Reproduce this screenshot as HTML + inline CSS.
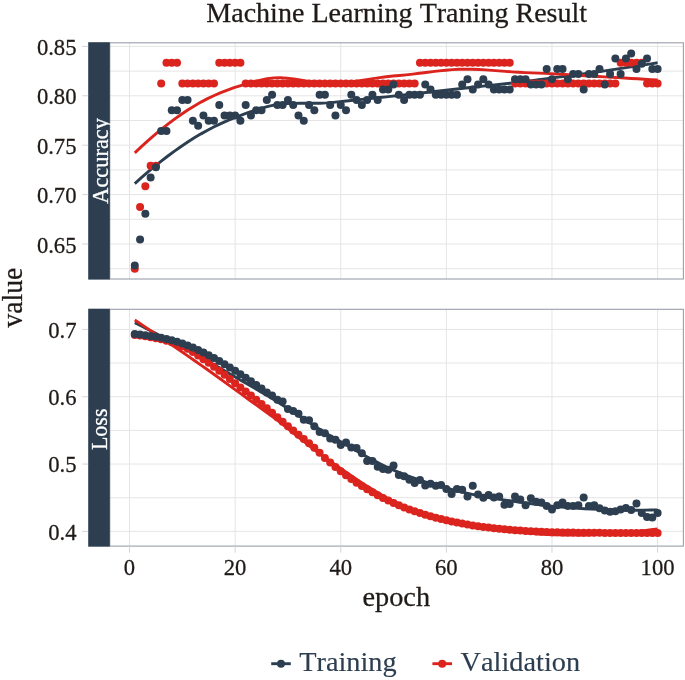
<!DOCTYPE html>
<html lang="en"><head><meta charset="utf-8"><title>Machine Learning Traning Result</title>
<style>html,body{margin:0;padding:0;background:#fff}svg{display:block}</style></head>
<body>
<svg width="685" height="680" viewBox="0 0 685 680" font-family="'Liberation Serif', 'Times New Roman', serif" style="font-kerning:none">
<rect width="685" height="680" fill="#fff"/>
<clipPath id="c1"><rect x="109.8" y="42.8" width="573.6" height="236.2"/></clipPath>
<g stroke="#E5E5E6" stroke-width="1" fill="none">
<line x1="109.8" x2="683.4" y1="244.00" y2="244.00"/>
<line x1="109.8" x2="683.4" y1="194.60" y2="194.60"/>
<line x1="109.8" x2="683.4" y1="145.20" y2="145.20"/>
<line x1="109.8" x2="683.4" y1="95.80" y2="95.80"/>
<line x1="109.8" x2="683.4" y1="46.40" y2="46.40"/>
<line x1="109.8" x2="683.4" y1="268.70" y2="268.70"/>
<line x1="109.8" x2="683.4" y1="219.30" y2="219.30"/>
<line x1="109.8" x2="683.4" y1="169.90" y2="169.90"/>
<line x1="109.8" x2="683.4" y1="120.50" y2="120.50"/>
<line x1="109.8" x2="683.4" y1="71.10" y2="71.10"/>
<line x1="129.50" x2="129.50" y1="42.8" y2="279.0"/>
<line x1="235.12" x2="235.12" y1="42.8" y2="279.0"/>
<line x1="340.74" x2="340.74" y1="42.8" y2="279.0"/>
<line x1="446.36" x2="446.36" y1="42.8" y2="279.0"/>
<line x1="551.98" x2="551.98" y1="42.8" y2="279.0"/>
<line x1="657.60" x2="657.60" y1="42.8" y2="279.0"/>
</g>
<clipPath id="c2"><rect x="109.8" y="309.3" width="573.6" height="236.8"/></clipPath>
<g stroke="#E5E5E6" stroke-width="1" fill="none">
<line x1="109.8" x2="683.4" y1="531.39" y2="531.39"/>
<line x1="109.8" x2="683.4" y1="464.06" y2="464.06"/>
<line x1="109.8" x2="683.4" y1="396.73" y2="396.73"/>
<line x1="109.8" x2="683.4" y1="329.40" y2="329.40"/>
<line x1="109.8" x2="683.4" y1="497.72" y2="497.72"/>
<line x1="109.8" x2="683.4" y1="430.39" y2="430.39"/>
<line x1="109.8" x2="683.4" y1="363.06" y2="363.06"/>
<line x1="129.50" x2="129.50" y1="309.3" y2="546.1"/>
<line x1="235.12" x2="235.12" y1="309.3" y2="546.1"/>
<line x1="340.74" x2="340.74" y1="309.3" y2="546.1"/>
<line x1="446.36" x2="446.36" y1="309.3" y2="546.1"/>
<line x1="551.98" x2="551.98" y1="309.3" y2="546.1"/>
<line x1="657.60" x2="657.60" y1="309.3" y2="546.1"/>
</g>
<path d="M134.78 183.58 L141.40 177.66 L148.02 171.94 L154.63 166.41 L161.25 161.10 L167.87 155.99 L174.49 151.10 L181.11 146.44 L187.72 142.01 L194.34 137.82 L200.96 133.87 L207.58 130.19 L214.20 126.77 L220.81 123.60 L227.43 120.66 L234.05 117.92 L240.67 115.36 L247.29 112.98 L253.90 110.73 L260.52 108.62 L267.14 106.66 L273.76 105.20 L280.38 104.23 L286.99 103.64 L293.61 103.35 L300.23 103.25 L306.85 103.26 L313.47 103.27 L320.08 103.18 L326.70 102.92 L333.32 102.36 L339.94 101.67 L346.56 100.98 L353.17 100.29 L359.79 99.61 L366.41 98.92 L373.03 98.24 L379.65 97.55 L386.26 96.86 L392.88 96.16 L399.50 95.45 L406.12 94.73 L412.74 94.00 L419.35 93.26 L425.97 92.51 L432.59 91.76 L439.21 91.01 L445.83 90.26 L452.44 89.51 L459.06 88.76 L465.68 88.02 L472.30 87.29 L478.92 86.57 L485.53 85.86 L492.15 85.16 L498.77 84.44 L505.39 83.72 L512.00 82.97 L518.62 82.20 L525.24 81.41 L531.86 80.58 L538.48 79.74 L545.09 78.90 L551.71 78.04 L558.33 77.18 L564.95 76.31 L571.57 75.43 L578.18 74.53 L584.80 73.62 L591.42 72.70 L598.04 71.77 L604.66 70.82 L611.27 69.86 L617.89 68.88 L624.51 67.90 L631.13 66.90 L637.75 65.89 L644.36 64.87 L650.98 63.83 L657.60 62.79" fill="none" stroke="#2C3E50" stroke-width="2.9" stroke-linejoin="round" clip-path="url(#c1)"/>
<path d="M134.78 152.82 L141.40 146.62 L148.02 140.64 L154.63 134.90 L161.25 129.40 L167.87 124.16 L174.49 119.18 L181.11 114.48 L187.72 110.06 L194.34 105.93 L200.96 102.11 L207.58 98.62 L214.20 95.47 L220.81 92.61 L227.43 90.04 L234.05 87.70 L240.67 85.58 L247.29 83.64 L253.90 81.86 L260.52 80.19 L267.14 78.70 L273.76 77.90 L280.38 77.77 L286.99 78.18 L293.61 78.96 L300.23 79.99 L306.85 81.10 L313.47 82.16 L320.08 83.02 L326.70 83.53 L333.32 83.56 L339.94 83.16 L346.56 82.52 L353.17 81.70 L359.79 80.74 L366.41 79.71 L373.03 78.67 L379.65 77.68 L386.26 76.79 L392.88 76.06 L399.50 75.51 L406.12 74.86 L412.74 74.11 L419.35 73.29 L425.97 72.45 L432.59 71.63 L439.21 70.86 L445.83 70.20 L452.44 69.67 L459.06 69.32 L465.68 69.20 L472.30 69.28 L478.92 69.53 L485.53 69.89 L492.15 70.34 L498.77 70.85 L505.39 71.36 L512.00 71.85 L518.62 72.29 L525.24 72.62 L531.86 72.85 L538.48 73.11 L545.09 73.40 L551.71 73.73 L558.33 74.09 L564.95 74.47 L571.57 74.87 L578.18 75.27 L584.80 75.68 L591.42 76.10 L598.04 76.50 L604.66 76.90 L611.27 77.28 L617.89 77.67 L624.51 78.05 L631.13 78.43 L637.75 78.82 L644.36 79.22 L650.98 79.64 L657.60 80.07" fill="none" stroke="#DC241F" stroke-width="2.9" stroke-linejoin="round" clip-path="url(#c1)"/>
<g fill="#DC241F" clip-path="url(#c1)">
<circle cx="134.78" cy="268.70" r="4.0"/>
<circle cx="140.06" cy="206.95" r="4.0"/>
<circle cx="145.34" cy="186.37" r="4.0"/>
<circle cx="150.62" cy="165.78" r="4.0"/>
<circle cx="155.91" cy="165.78" r="4.0"/>
<circle cx="161.19" cy="83.45" r="4.0"/>
<circle cx="166.47" cy="62.87" r="4.0"/>
<circle cx="171.75" cy="62.87" r="4.0"/>
<circle cx="177.03" cy="62.87" r="4.0"/>
<circle cx="182.31" cy="83.45" r="4.0"/>
<circle cx="187.59" cy="83.45" r="4.0"/>
<circle cx="192.87" cy="83.45" r="4.0"/>
<circle cx="198.15" cy="83.45" r="4.0"/>
<circle cx="203.43" cy="83.45" r="4.0"/>
<circle cx="208.71" cy="83.45" r="4.0"/>
<circle cx="214.00" cy="83.45" r="4.0"/>
<circle cx="219.28" cy="62.87" r="4.0"/>
<circle cx="224.56" cy="62.87" r="4.0"/>
<circle cx="229.84" cy="62.87" r="4.0"/>
<circle cx="235.12" cy="62.87" r="4.0"/>
<circle cx="240.40" cy="62.87" r="4.0"/>
<circle cx="245.68" cy="83.45" r="4.0"/>
<circle cx="250.96" cy="83.45" r="4.0"/>
<circle cx="256.24" cy="83.45" r="4.0"/>
<circle cx="261.52" cy="83.45" r="4.0"/>
<circle cx="266.81" cy="83.45" r="4.0"/>
<circle cx="272.09" cy="83.45" r="4.0"/>
<circle cx="277.37" cy="83.45" r="4.0"/>
<circle cx="282.65" cy="83.45" r="4.0"/>
<circle cx="287.93" cy="83.45" r="4.0"/>
<circle cx="293.21" cy="83.45" r="4.0"/>
<circle cx="298.49" cy="83.45" r="4.0"/>
<circle cx="303.77" cy="83.45" r="4.0"/>
<circle cx="309.05" cy="83.45" r="4.0"/>
<circle cx="314.33" cy="83.45" r="4.0"/>
<circle cx="319.62" cy="83.45" r="4.0"/>
<circle cx="324.90" cy="83.45" r="4.0"/>
<circle cx="330.18" cy="83.45" r="4.0"/>
<circle cx="335.46" cy="83.45" r="4.0"/>
<circle cx="340.74" cy="83.45" r="4.0"/>
<circle cx="346.02" cy="83.45" r="4.0"/>
<circle cx="351.30" cy="83.45" r="4.0"/>
<circle cx="356.58" cy="83.45" r="4.0"/>
<circle cx="361.86" cy="83.45" r="4.0"/>
<circle cx="367.14" cy="83.45" r="4.0"/>
<circle cx="372.43" cy="83.45" r="4.0"/>
<circle cx="377.71" cy="83.45" r="4.0"/>
<circle cx="382.99" cy="83.45" r="4.0"/>
<circle cx="388.27" cy="83.45" r="4.0"/>
<circle cx="393.55" cy="83.45" r="4.0"/>
<circle cx="398.83" cy="83.45" r="4.0"/>
<circle cx="404.11" cy="83.45" r="4.0"/>
<circle cx="409.39" cy="83.45" r="4.0"/>
<circle cx="414.67" cy="83.45" r="4.0"/>
<circle cx="419.95" cy="62.87" r="4.0"/>
<circle cx="425.24" cy="62.87" r="4.0"/>
<circle cx="430.52" cy="62.87" r="4.0"/>
<circle cx="435.80" cy="62.87" r="4.0"/>
<circle cx="441.08" cy="62.87" r="4.0"/>
<circle cx="446.36" cy="62.87" r="4.0"/>
<circle cx="451.64" cy="62.87" r="4.0"/>
<circle cx="456.92" cy="62.87" r="4.0"/>
<circle cx="462.20" cy="62.87" r="4.0"/>
<circle cx="467.48" cy="62.87" r="4.0"/>
<circle cx="472.76" cy="62.87" r="4.0"/>
<circle cx="478.05" cy="62.87" r="4.0"/>
<circle cx="483.33" cy="62.87" r="4.0"/>
<circle cx="488.61" cy="62.87" r="4.0"/>
<circle cx="493.89" cy="62.87" r="4.0"/>
<circle cx="499.17" cy="62.87" r="4.0"/>
<circle cx="504.45" cy="62.87" r="4.0"/>
<circle cx="509.73" cy="62.87" r="4.0"/>
<circle cx="515.01" cy="83.45" r="4.0"/>
<circle cx="520.29" cy="83.45" r="4.0"/>
<circle cx="525.58" cy="83.45" r="4.0"/>
<circle cx="530.86" cy="83.45" r="4.0"/>
<circle cx="536.14" cy="83.45" r="4.0"/>
<circle cx="541.42" cy="83.45" r="4.0"/>
<circle cx="546.70" cy="83.45" r="4.0"/>
<circle cx="551.98" cy="83.45" r="4.0"/>
<circle cx="557.26" cy="83.45" r="4.0"/>
<circle cx="562.54" cy="83.45" r="4.0"/>
<circle cx="567.82" cy="83.45" r="4.0"/>
<circle cx="573.10" cy="83.45" r="4.0"/>
<circle cx="578.38" cy="83.45" r="4.0"/>
<circle cx="583.67" cy="83.45" r="4.0"/>
<circle cx="588.95" cy="83.45" r="4.0"/>
<circle cx="594.23" cy="83.45" r="4.0"/>
<circle cx="599.51" cy="83.45" r="4.0"/>
<circle cx="604.79" cy="83.45" r="4.0"/>
<circle cx="610.07" cy="83.45" r="4.0"/>
<circle cx="615.35" cy="83.45" r="4.0"/>
<circle cx="620.63" cy="62.87" r="4.0"/>
<circle cx="625.91" cy="62.87" r="4.0"/>
<circle cx="631.19" cy="62.87" r="4.0"/>
<circle cx="636.48" cy="62.87" r="4.0"/>
<circle cx="641.76" cy="62.87" r="4.0"/>
<circle cx="647.04" cy="83.45" r="4.0"/>
<circle cx="652.32" cy="83.45" r="4.0"/>
<circle cx="657.60" cy="83.45" r="4.0"/>
</g>
<g fill="#2C3E50" clip-path="url(#c1)">
<circle cx="134.78" cy="265.47" r="4.0"/>
<circle cx="140.06" cy="239.60" r="4.0"/>
<circle cx="145.34" cy="213.74" r="4.0"/>
<circle cx="150.62" cy="177.53" r="4.0"/>
<circle cx="155.91" cy="167.18" r="4.0"/>
<circle cx="161.19" cy="130.97" r="4.0"/>
<circle cx="166.47" cy="130.97" r="4.0"/>
<circle cx="171.75" cy="110.28" r="4.0"/>
<circle cx="177.03" cy="110.28" r="4.0"/>
<circle cx="182.31" cy="99.94" r="4.0"/>
<circle cx="187.59" cy="99.94" r="4.0"/>
<circle cx="192.87" cy="120.63" r="4.0"/>
<circle cx="198.15" cy="125.80" r="4.0"/>
<circle cx="203.43" cy="115.46" r="4.0"/>
<circle cx="208.71" cy="120.63" r="4.0"/>
<circle cx="214.00" cy="120.63" r="4.0"/>
<circle cx="219.28" cy="105.11" r="4.0"/>
<circle cx="224.56" cy="115.46" r="4.0"/>
<circle cx="229.84" cy="115.46" r="4.0"/>
<circle cx="235.12" cy="115.46" r="4.0"/>
<circle cx="240.40" cy="120.63" r="4.0"/>
<circle cx="245.68" cy="105.11" r="4.0"/>
<circle cx="250.96" cy="115.46" r="4.0"/>
<circle cx="256.24" cy="110.28" r="4.0"/>
<circle cx="261.52" cy="110.28" r="4.0"/>
<circle cx="266.81" cy="99.94" r="4.0"/>
<circle cx="272.09" cy="94.77" r="4.0"/>
<circle cx="277.37" cy="105.11" r="4.0"/>
<circle cx="282.65" cy="105.11" r="4.0"/>
<circle cx="287.93" cy="99.94" r="4.0"/>
<circle cx="293.21" cy="105.11" r="4.0"/>
<circle cx="298.49" cy="115.46" r="4.0"/>
<circle cx="303.77" cy="120.63" r="4.0"/>
<circle cx="309.05" cy="105.11" r="4.0"/>
<circle cx="314.33" cy="110.28" r="4.0"/>
<circle cx="319.62" cy="94.77" r="4.0"/>
<circle cx="324.90" cy="94.77" r="4.0"/>
<circle cx="330.18" cy="105.11" r="4.0"/>
<circle cx="335.46" cy="115.46" r="4.0"/>
<circle cx="340.74" cy="105.11" r="4.0"/>
<circle cx="346.02" cy="110.28" r="4.0"/>
<circle cx="351.30" cy="94.77" r="4.0"/>
<circle cx="356.58" cy="99.94" r="4.0"/>
<circle cx="361.86" cy="105.11" r="4.0"/>
<circle cx="367.14" cy="99.94" r="4.0"/>
<circle cx="372.43" cy="94.77" r="4.0"/>
<circle cx="377.71" cy="99.94" r="4.0"/>
<circle cx="382.99" cy="89.59" r="4.0"/>
<circle cx="388.27" cy="89.59" r="4.0"/>
<circle cx="393.55" cy="84.42" r="4.0"/>
<circle cx="398.83" cy="94.77" r="4.0"/>
<circle cx="404.11" cy="99.94" r="4.0"/>
<circle cx="409.39" cy="94.77" r="4.0"/>
<circle cx="414.67" cy="94.77" r="4.0"/>
<circle cx="419.95" cy="94.77" r="4.0"/>
<circle cx="425.24" cy="84.42" r="4.0"/>
<circle cx="430.52" cy="89.59" r="4.0"/>
<circle cx="435.80" cy="94.77" r="4.0"/>
<circle cx="441.08" cy="94.77" r="4.0"/>
<circle cx="446.36" cy="94.77" r="4.0"/>
<circle cx="451.64" cy="94.77" r="4.0"/>
<circle cx="456.92" cy="94.77" r="4.0"/>
<circle cx="462.20" cy="84.42" r="4.0"/>
<circle cx="467.48" cy="79.25" r="4.0"/>
<circle cx="472.76" cy="89.59" r="4.0"/>
<circle cx="478.05" cy="84.42" r="4.0"/>
<circle cx="483.33" cy="79.25" r="4.0"/>
<circle cx="488.61" cy="84.42" r="4.0"/>
<circle cx="493.89" cy="89.59" r="4.0"/>
<circle cx="499.17" cy="89.59" r="4.0"/>
<circle cx="504.45" cy="89.59" r="4.0"/>
<circle cx="509.73" cy="89.59" r="4.0"/>
<circle cx="515.01" cy="79.25" r="4.0"/>
<circle cx="520.29" cy="79.25" r="4.0"/>
<circle cx="525.58" cy="79.25" r="4.0"/>
<circle cx="530.86" cy="84.42" r="4.0"/>
<circle cx="536.14" cy="84.42" r="4.0"/>
<circle cx="541.42" cy="84.42" r="4.0"/>
<circle cx="546.70" cy="68.90" r="4.0"/>
<circle cx="551.98" cy="79.25" r="4.0"/>
<circle cx="557.26" cy="68.90" r="4.0"/>
<circle cx="562.54" cy="68.90" r="4.0"/>
<circle cx="567.82" cy="79.25" r="4.0"/>
<circle cx="573.10" cy="74.07" r="4.0"/>
<circle cx="578.38" cy="74.07" r="4.0"/>
<circle cx="583.67" cy="89.59" r="4.0"/>
<circle cx="588.95" cy="74.07" r="4.0"/>
<circle cx="594.23" cy="74.07" r="4.0"/>
<circle cx="599.51" cy="68.90" r="4.0"/>
<circle cx="604.79" cy="84.42" r="4.0"/>
<circle cx="610.07" cy="74.07" r="4.0"/>
<circle cx="615.35" cy="58.56" r="4.0"/>
<circle cx="620.63" cy="74.07" r="4.0"/>
<circle cx="625.91" cy="58.56" r="4.0"/>
<circle cx="631.19" cy="53.38" r="4.0"/>
<circle cx="636.48" cy="68.90" r="4.0"/>
<circle cx="641.76" cy="63.73" r="4.0"/>
<circle cx="647.04" cy="58.56" r="4.0"/>
<circle cx="652.32" cy="68.90" r="4.0"/>
<circle cx="657.60" cy="68.90" r="4.0"/>
</g>
<path d="M134.78 322.72 L141.40 326.07 L148.02 329.44 L154.63 332.83 L161.25 336.25 L167.87 339.69 L174.49 343.17 L181.11 346.68 L187.72 350.22 L194.34 353.81 L200.96 357.44 L207.58 361.12 L214.20 364.86 L220.81 368.63 L227.43 372.45 L234.05 376.28 L240.67 380.13 L247.29 383.98 L253.90 387.83 L260.52 391.67 L267.14 395.50 L273.76 399.51 L280.38 403.67 L286.99 407.96 L293.61 412.32 L300.23 416.71 L306.85 421.08 L313.47 425.39 L320.08 429.59 L326.70 433.63 L333.32 437.48 L339.94 441.27 L346.56 445.10 L353.17 448.93 L359.79 452.72 L366.41 456.44 L373.03 460.05 L379.65 463.51 L386.26 466.79 L392.88 469.84 L399.50 472.64 L406.12 475.25 L412.74 477.69 L419.35 479.97 L425.97 482.12 L432.59 484.14 L439.21 486.06 L445.83 487.88 L452.44 489.62 L459.06 491.30 L465.68 492.92 L472.30 494.43 L478.92 495.79 L485.53 497.01 L492.15 498.13 L498.77 499.16 L505.39 500.13 L512.00 501.06 L518.62 501.97 L525.24 502.89 L531.86 503.81 L538.48 504.66 L545.09 505.44 L551.71 506.15 L558.33 506.79 L564.95 507.36 L571.57 507.88 L578.18 508.33 L584.80 508.74 L591.42 509.09 L598.04 509.40 L604.66 509.66 L611.27 509.88 L617.89 510.04 L624.51 510.15 L631.13 510.21 L637.75 510.21 L644.36 510.15 L650.98 510.03 L657.60 509.84" fill="none" stroke="#2C3E50" stroke-width="2.9" stroke-linejoin="round" clip-path="url(#c2)"/>
<path d="M134.78 319.96 L141.40 324.40 L148.02 328.84 L154.63 333.29 L161.25 337.76 L167.87 342.24 L174.49 346.75 L181.11 351.28 L187.72 355.84 L194.34 360.44 L200.96 365.07 L207.58 369.75 L214.20 374.48 L220.81 379.25 L227.43 384.05 L234.05 388.86 L240.67 393.67 L247.29 398.47 L253.90 403.24 L260.52 407.98 L267.14 412.71 L273.76 417.62 L280.38 422.72 L286.99 427.95 L293.61 433.25 L300.23 438.57 L306.85 443.85 L313.47 449.03 L320.08 454.07 L326.70 458.90 L333.32 463.46 L339.94 467.94 L346.56 472.44 L353.17 476.93 L359.79 481.35 L366.41 485.67 L373.03 489.84 L379.65 493.81 L386.26 497.54 L392.88 500.98 L399.50 504.10 L406.12 506.94 L412.74 509.54 L419.35 511.92 L425.97 514.10 L432.59 516.12 L439.21 517.99 L445.83 519.74 L452.44 521.41 L459.06 523.00 L465.68 524.56 L472.30 525.98 L478.92 527.22 L485.53 528.30 L492.15 529.25 L498.77 530.10 L505.39 530.85 L512.00 531.54 L518.62 532.18 L525.24 532.81 L531.86 533.43 L538.48 533.95 L545.09 534.36 L551.71 534.68 L558.33 534.91 L564.95 535.05 L571.57 535.10 L578.18 535.07 L584.80 534.96 L591.42 534.78 L598.04 534.53 L604.66 534.21 L611.27 533.82 L617.89 533.35 L624.51 532.81 L631.13 532.18 L637.75 531.48 L644.36 530.69 L650.98 529.81 L657.60 528.85" fill="none" stroke="#DC241F" stroke-width="2.9" stroke-linejoin="round" clip-path="url(#c2)"/>
<g fill="#DC241F" clip-path="url(#c2)">
<circle cx="134.78" cy="334.98" r="4.0"/>
<circle cx="140.06" cy="335.51" r="4.0"/>
<circle cx="145.34" cy="336.25" r="4.0"/>
<circle cx="150.62" cy="337.13" r="4.0"/>
<circle cx="155.91" cy="338.14" r="4.0"/>
<circle cx="161.19" cy="339.30" r="4.0"/>
<circle cx="166.47" cy="340.68" r="4.0"/>
<circle cx="171.75" cy="342.29" r="4.0"/>
<circle cx="177.03" cy="344.13" r="4.0"/>
<circle cx="182.31" cy="346.20" r="4.0"/>
<circle cx="187.59" cy="348.79" r="4.0"/>
<circle cx="192.87" cy="352.01" r="4.0"/>
<circle cx="198.15" cy="355.56" r="4.0"/>
<circle cx="203.43" cy="359.17" r="4.0"/>
<circle cx="208.71" cy="362.85" r="4.0"/>
<circle cx="214.00" cy="366.73" r="4.0"/>
<circle cx="219.28" cy="370.73" r="4.0"/>
<circle cx="224.56" cy="374.84" r="4.0"/>
<circle cx="229.84" cy="379.08" r="4.0"/>
<circle cx="235.12" cy="383.29" r="4.0"/>
<circle cx="240.40" cy="387.43" r="4.0"/>
<circle cx="245.68" cy="391.52" r="4.0"/>
<circle cx="250.96" cy="395.62" r="4.0"/>
<circle cx="256.24" cy="399.77" r="4.0"/>
<circle cx="261.52" cy="403.99" r="4.0"/>
<circle cx="266.81" cy="408.34" r="4.0"/>
<circle cx="272.09" cy="412.78" r="4.0"/>
<circle cx="277.37" cy="417.26" r="4.0"/>
<circle cx="282.65" cy="421.74" r="4.0"/>
<circle cx="287.93" cy="426.17" r="4.0"/>
<circle cx="293.21" cy="430.48" r="4.0"/>
<circle cx="298.49" cy="434.71" r="4.0"/>
<circle cx="303.77" cy="438.96" r="4.0"/>
<circle cx="309.05" cy="443.31" r="4.0"/>
<circle cx="314.33" cy="447.87" r="4.0"/>
<circle cx="319.62" cy="452.87" r="4.0"/>
<circle cx="324.90" cy="457.89" r="4.0"/>
<circle cx="330.18" cy="462.54" r="4.0"/>
<circle cx="335.46" cy="467.00" r="4.0"/>
<circle cx="340.74" cy="471.19" r="4.0"/>
<circle cx="346.02" cy="475.16" r="4.0"/>
<circle cx="351.30" cy="478.99" r="4.0"/>
<circle cx="356.58" cy="482.65" r="4.0"/>
<circle cx="361.86" cy="486.11" r="4.0"/>
<circle cx="367.14" cy="489.34" r="4.0"/>
<circle cx="372.43" cy="492.36" r="4.0"/>
<circle cx="377.71" cy="495.23" r="4.0"/>
<circle cx="382.99" cy="497.94" r="4.0"/>
<circle cx="388.27" cy="500.50" r="4.0"/>
<circle cx="393.55" cy="502.91" r="4.0"/>
<circle cx="398.83" cy="505.20" r="4.0"/>
<circle cx="404.11" cy="507.38" r="4.0"/>
<circle cx="409.39" cy="509.44" r="4.0"/>
<circle cx="414.67" cy="511.36" r="4.0"/>
<circle cx="419.95" cy="513.12" r="4.0"/>
<circle cx="425.24" cy="514.75" r="4.0"/>
<circle cx="430.52" cy="516.27" r="4.0"/>
<circle cx="435.80" cy="517.68" r="4.0"/>
<circle cx="441.08" cy="519.01" r="4.0"/>
<circle cx="446.36" cy="520.25" r="4.0"/>
<circle cx="451.64" cy="521.42" r="4.0"/>
<circle cx="456.92" cy="522.54" r="4.0"/>
<circle cx="462.20" cy="523.59" r="4.0"/>
<circle cx="467.48" cy="524.55" r="4.0"/>
<circle cx="472.76" cy="525.42" r="4.0"/>
<circle cx="478.05" cy="526.21" r="4.0"/>
<circle cx="483.33" cy="526.94" r="4.0"/>
<circle cx="488.61" cy="527.61" r="4.0"/>
<circle cx="493.89" cy="528.23" r="4.0"/>
<circle cx="499.17" cy="528.78" r="4.0"/>
<circle cx="504.45" cy="529.29" r="4.0"/>
<circle cx="509.73" cy="529.76" r="4.0"/>
<circle cx="515.01" cy="530.20" r="4.0"/>
<circle cx="520.29" cy="530.59" r="4.0"/>
<circle cx="525.58" cy="530.93" r="4.0"/>
<circle cx="530.86" cy="531.25" r="4.0"/>
<circle cx="536.14" cy="531.56" r="4.0"/>
<circle cx="541.42" cy="531.83" r="4.0"/>
<circle cx="546.70" cy="532.06" r="4.0"/>
<circle cx="551.98" cy="532.21" r="4.0"/>
<circle cx="557.26" cy="532.32" r="4.0"/>
<circle cx="562.54" cy="532.43" r="4.0"/>
<circle cx="567.82" cy="532.52" r="4.0"/>
<circle cx="573.10" cy="532.61" r="4.0"/>
<circle cx="578.38" cy="532.69" r="4.0"/>
<circle cx="583.67" cy="532.75" r="4.0"/>
<circle cx="588.95" cy="532.81" r="4.0"/>
<circle cx="594.23" cy="532.85" r="4.0"/>
<circle cx="599.51" cy="532.87" r="4.0"/>
<circle cx="604.79" cy="532.88" r="4.0"/>
<circle cx="610.07" cy="532.88" r="4.0"/>
<circle cx="615.35" cy="532.88" r="4.0"/>
<circle cx="620.63" cy="532.88" r="4.0"/>
<circle cx="625.91" cy="532.88" r="4.0"/>
<circle cx="631.19" cy="532.88" r="4.0"/>
<circle cx="636.48" cy="532.88" r="4.0"/>
<circle cx="641.76" cy="532.88" r="4.0"/>
<circle cx="647.04" cy="532.88" r="4.0"/>
<circle cx="652.32" cy="532.88" r="4.0"/>
<circle cx="657.60" cy="532.88" r="4.0"/>
</g>
<g fill="#2C3E50" clip-path="url(#c2)">
<circle cx="134.78" cy="334.10" r="4.0"/>
<circle cx="140.06" cy="334.60" r="4.0"/>
<circle cx="145.34" cy="335.20" r="4.0"/>
<circle cx="150.62" cy="335.90" r="4.0"/>
<circle cx="155.91" cy="336.80" r="4.0"/>
<circle cx="161.19" cy="337.80" r="4.0"/>
<circle cx="166.47" cy="339.00" r="4.0"/>
<circle cx="171.75" cy="340.30" r="4.0"/>
<circle cx="177.03" cy="341.80" r="4.0"/>
<circle cx="182.31" cy="343.50" r="4.0"/>
<circle cx="187.59" cy="345.40" r="4.0"/>
<circle cx="192.87" cy="347.50" r="4.0"/>
<circle cx="198.15" cy="349.90" r="4.0"/>
<circle cx="203.43" cy="352.40" r="4.0"/>
<circle cx="208.71" cy="355.20" r="4.0"/>
<circle cx="214.00" cy="358.10" r="4.0"/>
<circle cx="219.28" cy="361.10" r="4.0"/>
<circle cx="224.56" cy="364.20" r="4.0"/>
<circle cx="229.84" cy="367.50" r="4.0"/>
<circle cx="235.12" cy="370.80" r="4.0"/>
<circle cx="240.40" cy="374.30" r="4.0"/>
<circle cx="245.68" cy="377.80" r="4.0"/>
<circle cx="250.96" cy="381.30" r="4.0"/>
<circle cx="256.24" cy="384.90" r="4.0"/>
<circle cx="261.52" cy="388.50" r="4.0"/>
<circle cx="266.81" cy="392.60" r="4.0"/>
<circle cx="272.09" cy="395.60" r="4.0"/>
<circle cx="277.37" cy="399.70" r="4.0"/>
<circle cx="282.65" cy="401.50" r="4.0"/>
<circle cx="287.93" cy="409.10" r="4.0"/>
<circle cx="293.21" cy="410.90" r="4.0"/>
<circle cx="298.49" cy="413.80" r="4.0"/>
<circle cx="303.77" cy="419.70" r="4.0"/>
<circle cx="309.05" cy="420.30" r="4.0"/>
<circle cx="314.33" cy="426.20" r="4.0"/>
<circle cx="319.62" cy="432.10" r="4.0"/>
<circle cx="324.90" cy="433.20" r="4.0"/>
<circle cx="330.18" cy="438.50" r="4.0"/>
<circle cx="335.46" cy="439.70" r="4.0"/>
<circle cx="340.74" cy="445.00" r="4.0"/>
<circle cx="346.02" cy="442.60" r="4.0"/>
<circle cx="351.30" cy="447.40" r="4.0"/>
<circle cx="356.58" cy="447.90" r="4.0"/>
<circle cx="361.86" cy="453.20" r="4.0"/>
<circle cx="367.14" cy="460.90" r="4.0"/>
<circle cx="372.43" cy="460.90" r="4.0"/>
<circle cx="377.71" cy="466.80" r="4.0"/>
<circle cx="382.99" cy="469.10" r="4.0"/>
<circle cx="388.27" cy="469.70" r="4.0"/>
<circle cx="393.55" cy="465.60" r="4.0"/>
<circle cx="398.83" cy="475.00" r="4.0"/>
<circle cx="404.11" cy="476.20" r="4.0"/>
<circle cx="409.39" cy="479.70" r="4.0"/>
<circle cx="414.67" cy="482.90" r="4.0"/>
<circle cx="419.95" cy="479.90" r="4.0"/>
<circle cx="425.24" cy="485.60" r="4.0"/>
<circle cx="430.52" cy="483.80" r="4.0"/>
<circle cx="435.80" cy="485.80" r="4.0"/>
<circle cx="441.08" cy="485.00" r="4.0"/>
<circle cx="446.36" cy="489.10" r="4.0"/>
<circle cx="451.64" cy="494.10" r="4.0"/>
<circle cx="456.92" cy="489.10" r="4.0"/>
<circle cx="462.20" cy="489.70" r="4.0"/>
<circle cx="467.48" cy="496.40" r="4.0"/>
<circle cx="472.76" cy="485.70" r="4.0"/>
<circle cx="478.05" cy="494.60" r="4.0"/>
<circle cx="483.33" cy="497.80" r="4.0"/>
<circle cx="488.61" cy="494.90" r="4.0"/>
<circle cx="493.89" cy="497.60" r="4.0"/>
<circle cx="499.17" cy="496.50" r="4.0"/>
<circle cx="504.45" cy="504.70" r="4.0"/>
<circle cx="509.73" cy="504.10" r="4.0"/>
<circle cx="515.01" cy="496.50" r="4.0"/>
<circle cx="520.29" cy="499.40" r="4.0"/>
<circle cx="525.58" cy="505.30" r="4.0"/>
<circle cx="530.86" cy="498.20" r="4.0"/>
<circle cx="536.14" cy="501.80" r="4.0"/>
<circle cx="541.42" cy="502.40" r="4.0"/>
<circle cx="546.70" cy="505.90" r="4.0"/>
<circle cx="551.98" cy="509.60" r="4.0"/>
<circle cx="557.26" cy="505.30" r="4.0"/>
<circle cx="562.54" cy="502.40" r="4.0"/>
<circle cx="567.82" cy="505.90" r="4.0"/>
<circle cx="573.10" cy="505.90" r="4.0"/>
<circle cx="578.38" cy="505.30" r="4.0"/>
<circle cx="583.67" cy="497.60" r="4.0"/>
<circle cx="588.95" cy="505.90" r="4.0"/>
<circle cx="594.23" cy="505.30" r="4.0"/>
<circle cx="599.51" cy="508.20" r="4.0"/>
<circle cx="604.79" cy="510.60" r="4.0"/>
<circle cx="610.07" cy="511.80" r="4.0"/>
<circle cx="615.35" cy="511.20" r="4.0"/>
<circle cx="620.63" cy="509.40" r="4.0"/>
<circle cx="625.91" cy="508.00" r="4.0"/>
<circle cx="631.19" cy="510.00" r="4.0"/>
<circle cx="636.48" cy="503.50" r="4.0"/>
<circle cx="641.76" cy="512.90" r="4.0"/>
<circle cx="647.04" cy="517.10" r="4.0"/>
<circle cx="652.32" cy="517.60" r="4.0"/>
<circle cx="657.60" cy="512.90" r="4.0"/>
</g>
<rect x="109.8" y="42.8" width="573.6" height="236.2" fill="none" stroke="#9A9FA9" stroke-width="1.1"/>
<rect x="88.2" y="42.199999999999996" width="21.599999999999994" height="237.39999999999998" fill="#2C3E50"/>
<rect x="109.8" y="309.3" width="573.6" height="236.8" fill="none" stroke="#9A9FA9" stroke-width="1.1"/>
<rect x="88.2" y="308.7" width="21.599999999999994" height="238.0" fill="#2C3E50"/>
<g stroke="#D0D0D0" stroke-width="0.9">
<line x1="82.2" x2="88.2" y1="244.00" y2="244.00"/>
<line x1="82.2" x2="88.2" y1="194.60" y2="194.60"/>
<line x1="82.2" x2="88.2" y1="145.20" y2="145.20"/>
<line x1="82.2" x2="88.2" y1="95.80" y2="95.80"/>
<line x1="82.2" x2="88.2" y1="46.40" y2="46.40"/>
<line x1="82.2" x2="88.2" y1="531.39" y2="531.39"/>
<line x1="82.2" x2="88.2" y1="464.06" y2="464.06"/>
<line x1="82.2" x2="88.2" y1="396.73" y2="396.73"/>
<line x1="82.2" x2="88.2" y1="329.40" y2="329.40"/>
<line x1="129.50" x2="129.50" y1="546.1" y2="552.6"/>
<line x1="235.12" x2="235.12" y1="546.1" y2="552.6"/>
<line x1="340.74" x2="340.74" y1="546.1" y2="552.6"/>
<line x1="446.36" x2="446.36" y1="546.1" y2="552.6"/>
<line x1="551.98" x2="551.98" y1="546.1" y2="552.6"/>
<line x1="657.60" x2="657.60" y1="546.1" y2="552.6"/>
</g>
<g font-size="22.65" fill="#1f1a17" stroke="#1f1a17" stroke-width="0.27">
<text x="76.5" y="252.50" text-anchor="end">0.65</text>
<text x="76.5" y="203.10" text-anchor="end">0.70</text>
<text x="76.5" y="153.70" text-anchor="end">0.75</text>
<text x="76.5" y="104.30" text-anchor="end">0.80</text>
<text x="76.5" y="54.90" text-anchor="end">0.85</text>
<text x="76.5" y="539.79" text-anchor="end">0.4</text>
<text x="76.5" y="472.46" text-anchor="end">0.5</text>
<text x="76.5" y="405.13" text-anchor="end">0.6</text>
<text x="76.5" y="337.80" text-anchor="end">0.7</text>
<text x="129.50" y="575" text-anchor="middle">0</text>
<text x="235.12" y="575" text-anchor="middle">20</text>
<text x="340.74" y="575" text-anchor="middle">40</text>
<text x="446.36" y="575" text-anchor="middle">60</text>
<text x="551.98" y="575" text-anchor="middle">80</text>
<text x="657.60" y="575" text-anchor="middle">100</text>
</g>
<g font-size="22.65" fill="#fff" stroke="#fff" stroke-width="0.27" text-anchor="middle">
<text transform="translate(107.7 160.9) rotate(-90) scale(0.987 1)">Accuracy</text>
<text transform="translate(107.4 429.3) rotate(-90) scale(0.972 1)">Loss</text>
</g>
<g font-size="28.3" fill="#1f1a17" stroke="#1f1a17" stroke-width="0.27" text-anchor="middle">
<text x="396.7" y="21.6" font-size="28.05">Machine Learning Traning Result</text>
<text x="396.3" y="606.0">epoch</text>
<text transform="translate(22 297.7) rotate(-90) scale(0.977 1.028)">value</text>
</g>
<g font-size="28.3" fill="#2C3E50">
<line x1="271.2" x2="290.8" y1="663.7" y2="663.7" stroke="#2C3E50" stroke-width="2.9"/><circle cx="281" cy="663.7" r="4.0" fill="#2C3E50"/>
<text x="299.2" y="671.1" stroke="#2C3E50" stroke-width="0.15">Training</text>
<line x1="432.4" x2="452" y1="663.7" y2="663.7" stroke="#DC241F" stroke-width="2.9"/><circle cx="442.2" cy="663.7" r="4.0" fill="#DC241F"/>
<text x="460.6" y="671.1" stroke="#2C3E50" stroke-width="0.15">Validation</text>
</g>
</svg>
</body></html>
